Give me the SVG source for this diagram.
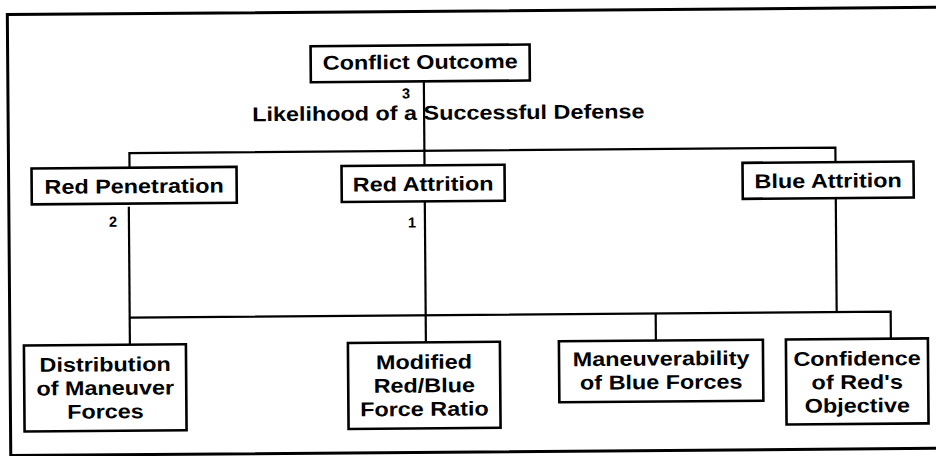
<svg xmlns="http://www.w3.org/2000/svg" width="936" height="456" viewBox="0 0 936 456">
  <style>
    .box { fill: #fff; stroke: #000; stroke-width: 2.6; }
    .lbl { font-family: "Liberation Sans", Arial, sans-serif; font-weight: bold; font-size: 20px; fill: #000; text-anchor: middle; }
    .num { font-family: "Liberation Sans", Arial, sans-serif; font-weight: bold; font-size: 14.5px; fill: #000; text-anchor: middle; }
    .conn { fill: none; stroke: #000; stroke-width: 2.2; }
    .frame { fill: none; stroke: #000; stroke-width: 3; }
  </style>
  <rect width="936" height="456" fill="#fff"/>
  <g transform="rotate(-0.45 468 228)">
    <path class="frame" d="M960 11 H9 V452 H960"/>
    <g id="connectors">
      <path class="conn" d="M425 81 V165"/>
      <path class="conn" d="M130 165 V150.5 H836 V165"/>
      <path class="conn" d="M129 204 V342"/>
      <path class="conn" d="M129 315 H890 V342"/>
      <path class="conn" d="M425 201 V342"/>
      <path class="conn" d="M836 201 V315"/>
      <path class="conn" d="M655 315 V342"/>
      <text class="num" x="407" y="98">3</text>
      <text class="num" x="113" y="224">2</text>
      <text class="num" x="412" y="227">1</text>
      <text class="lbl" transform="translate(253 119.5) scale(1.17 1)" style="text-anchor:start">Likelihood of a Successful Defense</text>
    </g>
    <g id="conflict-outcome">
      <rect class="box" x="312" y="45" width="219" height="36"/>
      <text class="lbl" transform="translate(421.5 68.5) scale(1.17 1)">Conflict Outcome</text>
    </g>
    <g id="red-penetration">
      <rect class="box" x="32" y="165" width="205" height="36"/>
      <text class="lbl" transform="translate(134.5 190.5) scale(1.17 1)">Red Penetration</text>
    </g>
    <g id="red-attrition">
      <rect class="box" x="342" y="165" width="163" height="36"/>
      <text class="lbl" transform="translate(423.5 190.5) scale(1.17 1)">Red Attrition</text>
    </g>
    <g id="blue-attrition">
      <rect class="box" x="743" y="165" width="171" height="36"/>
      <text class="lbl" transform="translate(828.5 190.5) scale(1.17 1)">Blue Attrition</text>
    </g>
    <g id="distribution">
      <rect class="box" x="23" y="342" width="162" height="86"/>
      <text class="lbl" transform="translate(104 368.5) scale(1.17 1)">Distribution</text>
      <text class="lbl" transform="translate(104 392) scale(1.17 1)">of Maneuver</text>
      <text class="lbl" transform="translate(104 415.5) scale(1.17 1)">Forces</text>
    </g>
    <g id="modified-ratio">
      <rect class="box" x="347" y="342" width="152" height="86"/>
      <text class="lbl" transform="translate(423 368.5) scale(1.17 1)">Modified</text>
      <text class="lbl" transform="translate(423 392) scale(1.17 1)">Red/Blue</text>
      <text class="lbl" transform="translate(423 415.5) scale(1.17 1)">Force Ratio</text>
    </g>
    <g id="maneuverability">
      <rect class="box" x="558" y="342" width="204" height="61"/>
      <text class="lbl" transform="translate(660 367) scale(1.17 1)">Maneuverability</text>
      <text class="lbl" transform="translate(660 390.5) scale(1.17 1)">of Blue Forces</text>
    </g>
    <g id="confidence">
      <rect class="box" x="785" y="342" width="142" height="85"/>
      <text class="lbl" transform="translate(856 368.5) scale(1.17 1)">Confidence</text>
      <text class="lbl" transform="translate(856 392) scale(1.17 1)">of Red's</text>
      <text class="lbl" transform="translate(856 415.5) scale(1.17 1)">Objective</text>
    </g>
  </g>
</svg>
